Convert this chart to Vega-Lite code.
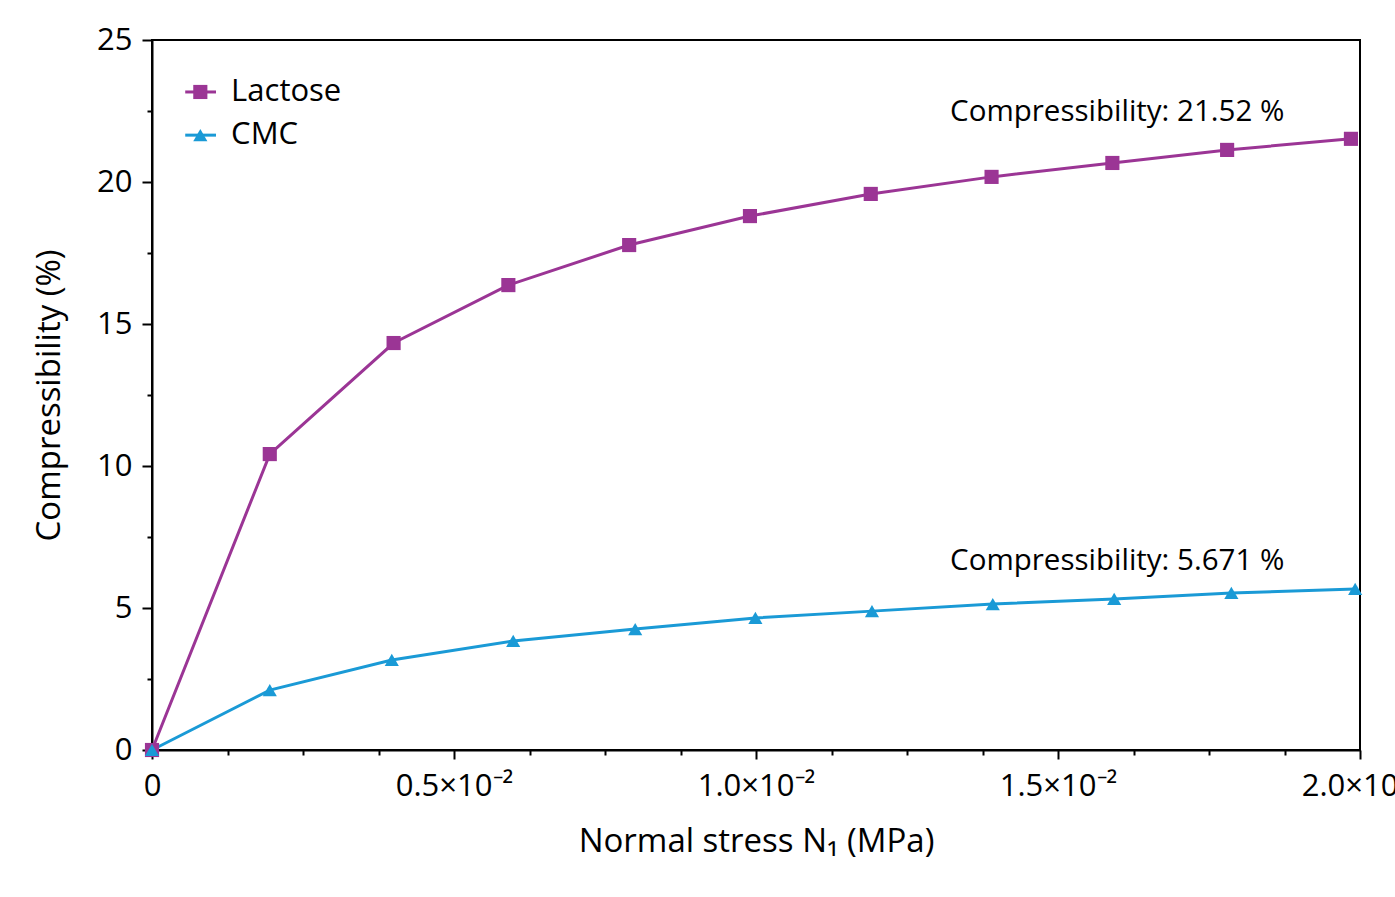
{
  "$schema": "https://vega.github.io/schema/vega-lite/v6.json",
  "width": 1208,
  "height": 710,
  "autosize": {"type": "none"},
  "padding": {"left": 152, "top": 40, "right": 35, "bottom": 147},
  "background": "white",
  "config": {
    "font": "Open Sans",
    "view": {"stroke": "black", "strokeWidth": 2},
    "axis": {"grid": false, "domainColor": "black", "domainWidth": 2, "tickColor": "black", "tickWidth": 2, "labelColor": "black", "titleColor": "black", "labelFont": "Open Sans", "titleFont": "Open Sans", "labelFontSize": 31, "titleFontSize": 33, "titleFontWeight": "normal"}
  },
  "datasets": {
    "main": [
      {"series": "Lactose", "stress": 0, "comp": 0},
      {"series": "Lactose", "stress": 0.00195, "comp": 10.42},
      {"series": "Lactose", "stress": 0.004, "comp": 14.33},
      {"series": "Lactose", "stress": 0.0059, "comp": 16.37},
      {"series": "Lactose", "stress": 0.0079, "comp": 17.78},
      {"series": "Lactose", "stress": 0.0099, "comp": 18.8},
      {"series": "Lactose", "stress": 0.0119, "comp": 19.58},
      {"series": "Lactose", "stress": 0.0139, "comp": 20.18},
      {"series": "Lactose", "stress": 0.0159, "comp": 20.67},
      {"series": "Lactose", "stress": 0.0178, "comp": 21.13},
      {"series": "Lactose", "stress": 0.01985, "comp": 21.52},
      {"series": "CMC", "stress": 0, "comp": 0},
      {"series": "CMC", "stress": 0.00195, "comp": 2.11},
      {"series": "CMC", "stress": 0.00397, "comp": 3.17},
      {"series": "CMC", "stress": 0.00598, "comp": 3.84},
      {"series": "CMC", "stress": 0.008, "comp": 4.26},
      {"series": "CMC", "stress": 0.00999, "comp": 4.65},
      {"series": "CMC", "stress": 0.01192, "comp": 4.89},
      {"series": "CMC", "stress": 0.01392, "comp": 5.14},
      {"series": "CMC", "stress": 0.01593, "comp": 5.32},
      {"series": "CMC", "stress": 0.01787, "comp": 5.53},
      {"series": "CMC", "stress": 0.01992, "comp": 5.671}
    ],
    "ann": [
      {"label": "Compressibility: 21.52 %", "x": 0.01598, "y": 22.46},
      {"label": "Compressibility: 5.671 %", "x": 0.01598, "y": 6.65}
    ],
    "leg": [
      {"series": "Lactose", "x1": 0.00055, "x2": 0.00106, "xm": 0.0008, "xt": 0.00131, "y": 23.17},
      {"series": "CMC", "x1": 0.00055, "x2": 0.00106, "xm": 0.0008, "xt": 0.00131, "y": 21.65}
    ]
  },
  "layer": [
    {
      "data": {"name": "main"},
      "mark": {"type": "line", "strokeWidth": 3},
      "encoding": {
        "x": {
          "field": "stress", "type": "quantitative",
          "scale": {"domain": [0, 0.02], "nice": false, "zero": false},
          "axis": {
            "title": "Normal stress N₁ (MPa)",
            "values": [0, 0.00125, 0.0025, 0.00375, 0.005, 0.00625, 0.0075, 0.00875, 0.01, 0.01125, 0.0125, 0.01375, 0.015, 0.01625, 0.0175, 0.01875, 0.02],
            "labelExpr": "datum.value == 0 ? '0' : (abs(datum.value*200 - round(datum.value*200)) < 0.000001 ? format(datum.value*100, '.1f') + '×10⁻²' : '')",
            "labelOverlap": false,
            "labelFlush": false,
            "labelPadding": 12,
            "tickSize": {"condition": {"test": "abs(datum.value*200 - round(datum.value*200)) < 0.000001", "value": 9}, "value": 5},
            "titlePadding": 24
          }
        },
        "y": {
          "field": "comp", "type": "quantitative",
          "scale": {"domain": [0, 25], "nice": false, "zero": false},
          "axis": {
            "title": "Compressibility (%)",
            "values": [0, 1.25, 2.5, 3.75, 5, 6.25, 7.5, 8.75, 10, 11.25, 12.5, 13.75, 15, 16.25, 17.5, 18.75, 20, 21.25, 22.5, 23.75, 25],
            "labelExpr": "abs(datum.value/5 - round(datum.value/5)) < 0.000001 ? format(datum.value, 'd') : ''",
            "labelOverlap": false,
            "labelFlush": false,
            "labelPadding": 10,
            "tickSize": {"condition": {"test": "abs(datum.value/5 - round(datum.value/5)) < 0.000001", "value": 10}, "value": 5},
            "titlePadding": 30
          }
        },
        "color": {"field": "series", "type": "nominal", "scale": {"domain": ["Lactose", "CMC"], "range": ["#9B3595", "#1A9AD6"]}, "legend": null},
        "detail": {"field": "series"}
      }
    },
    {
      "data": {"name": "main"},
      "mark": {"type": "point", "filled": true, "opacity": 1},
      "encoding": {
        "x": {"field": "stress", "type": "quantitative"},
        "y": {"field": "comp", "type": "quantitative"},
        "color": {"field": "series", "type": "nominal", "legend": null},
        "shape": {"field": "series", "type": "nominal", "scale": {"domain": ["Lactose", "CMC"], "range": ["square", "triangle-up"]}, "legend": null},
        "size": {"value": 200}
      }
    },
    {
      "data": {"name": "ann"},
      "mark": {"type": "text", "fontSize": 29.5, "font": "Open Sans", "color": "black", "align": "center", "baseline": "middle"},
      "encoding": {
        "x": {"field": "x", "type": "quantitative"},
        "y": {"field": "y", "type": "quantitative"},
        "text": {"field": "label"}
      }
    },
    {
      "data": {"name": "leg"},
      "mark": {"type": "rule", "strokeWidth": 3},
      "encoding": {
        "x": {"field": "x1", "type": "quantitative"},
        "x2": {"field": "x2"},
        "y": {"field": "y", "type": "quantitative"},
        "color": {"field": "series", "type": "nominal", "legend": null}
      }
    },
    {
      "data": {"name": "leg"},
      "mark": {"type": "point", "filled": true, "opacity": 1},
      "encoding": {
        "x": {"field": "xm", "type": "quantitative"},
        "y": {"field": "y", "type": "quantitative"},
        "color": {"field": "series", "type": "nominal", "legend": null},
        "shape": {"field": "series", "type": "nominal", "legend": null},
        "size": {"value": 200}
      }
    },
    {
      "data": {"name": "leg"},
      "mark": {"type": "text", "fontSize": 31, "font": "Open Sans", "color": "black", "align": "left", "baseline": "middle"},
      "encoding": {
        "x": {"field": "xt", "type": "quantitative"},
        "y": {"field": "y", "type": "quantitative"},
        "text": {"field": "series"}
      }
    }
  ]
}
